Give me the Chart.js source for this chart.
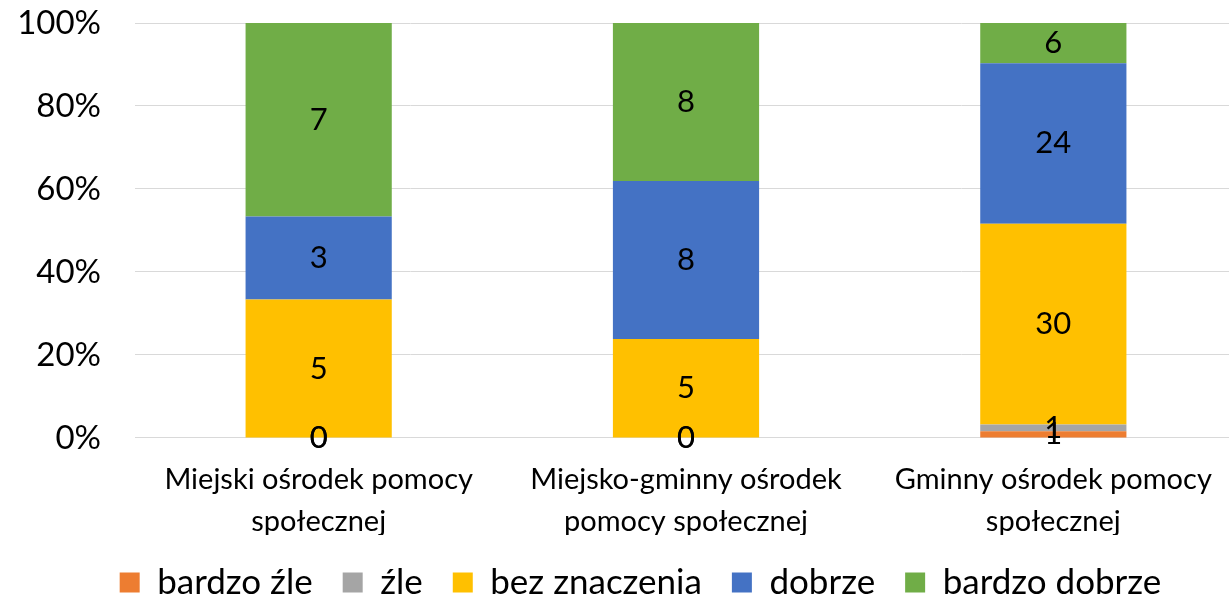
<!DOCTYPE html>
<html>
<head>
<meta charset="utf-8">
<script src="https://cdn.jsdelivr.net/npm/chart.js@4.4.0/dist/chart.umd.min.js"></script>
<style>
html,body{margin:0;padding:0;background:#fff;overflow:hidden;}
#wrap{width:1237px;height:602px;position:relative;}
</style>
</head>
<body>
<div id="wrap"><canvas id="c"></canvas></div>
<script>
const categories = [
  ["Miejski ośrodek pomocy", "społecznej"],
  ["Miejsko-gminny ośrodek", "pomocy społecznej"],
  ["Gminny ośrodek pomocy", "społecznej"]
];
const seriesNames = ["bardzo źle", "źle", "bez znaczenia", "dobrze", "bardzo dobrze"];
const seriesColors = ["#ED7D31", "#A5A5A5", "#FFC000", "#4472C4", "#70AD47"];
const bardzoZle = [0, 0, 1];
const zle = [0, 0, 1];
const bezZnaczenia = [5, 5, 30];
const dobrze = [3, 8, 24];
const bardzoDobrze = [7, 8, 6];
const yTicks = ["0%", "20%", "40%", "60%", "80%", "100%"];

const counts = [bardzoZle, zle, bezZnaczenia, dobrze, bardzoDobrze];
const totals = categories.map((_, i) => counts.reduce((s, a) => s + a[i], 0));

const FONT = "Lato, 'Open Sans', sans-serif";

const labelPlugin = {
  id: 'valueLabels',
  afterLayout(chart) {
    if (chart.legend) { chart.legend.left += 44; }
  },
  afterDatasetsDraw(chart) {
    const ctx = chart.ctx;
    ctx.save();
    ctx.font = "31px " + FONT;
    ctx.fillStyle = "#000";
    ctx.textAlign = "center";
    ctx.textBaseline = "middle";
    chart.data.datasets.forEach((ds, di) => {
      const meta = chart.getDatasetMeta(di);
      meta.data.forEach((el, i) => {
        const y = (el.y + el.base) / 2;
        ctx.fillText(String(ds.counts[i]), el.x, y);
      });
    });
    ctx.restore();
  }
};

new Chart(document.getElementById('c'), {
  type: 'bar',
  data: {
    labels: categories,
    datasets: seriesNames.map((name, k) => ({
      label: name,
      counts: counts[k],
      data: counts[k].map((v, i) => v / totals[i] * 100),
      backgroundColor: seriesColors[k],
      borderWidth: 0,
      categoryPercentage: 1,
      barPercentage: 0.398
    }))
  },
  options: {
    responsive: true,
    maintainAspectRatio: false,
    animation: false,
    layout: { padding: { top: 0, left: 0, right: 0, bottom: -8 } },
    plugins: {
      tooltip: { enabled: false },
      legend: {
        position: 'bottom',
        labels: {
          font: { size: 35, family: FONT },
          color: "#000",
          boxWidth: 20,
          boxHeight: 20,
          padding: 30
        }
      }
    },
    scales: {
      x: {
        stacked: true,
        grid: { display: false },
        border: { color: "#d9d9d9", width: 1 },
        afterFit(scale) { scale.height -= 21; },
        ticks: { color: "#000", font: { size: 29, family: FONT, lineHeight: 1.45 }, padding: 13, maxRotation: 0 }
      },
      y: {
        stacked: true,
        min: 0,
        max: 100,
        afterFit(scale) { scale.width = 135; scale.paddingTop = 23; scale.paddingBottom = 0; },
        grid: { color: "#d9d9d9", lineWidth: 1, drawTicks: false },
        border: { display: false },
        ticks: {
          stepSize: 20,
          color: "#000",
          font: { size: 33, family: FONT },
          padding: 34,
          callback: (v) => yTicks[Math.round(v / 20)]
        }
      }
    }
  },
  plugins: [labelPlugin]
});
</script>
</body>
</html>
